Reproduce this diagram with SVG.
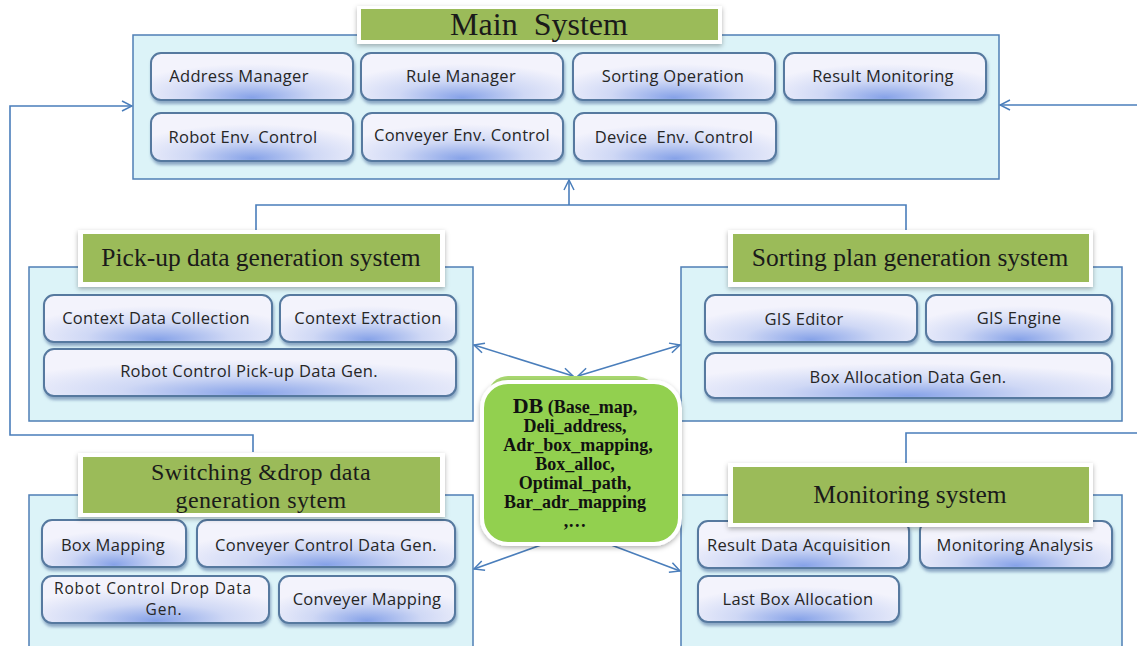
<svg xmlns="http://www.w3.org/2000/svg" width="1137" height="646" viewBox="0 0 1137 646">
<defs>
<radialGradient id="ig" cx="50%" cy="85%" r="62%" fx="50%" fy="95%">
<stop offset="0" stop-color="#86a2e8"/>
<stop offset="0.5" stop-color="#cfd8f5"/>
<stop offset="1" stop-color="#f3f3fc"/>
</radialGradient>
<filter id="sh" x="-10%" y="-20%" width="120%" height="150%">
<feDropShadow dx="1" dy="3" stdDeviation="1.5" flood-color="#4a6a9a" flood-opacity="0.55"/>
</filter>
<filter id="tsh" x="-10%" y="-20%" width="120%" height="150%">
<feDropShadow dx="0" dy="2" stdDeviation="2.5" flood-color="#000" flood-opacity="0.3"/>
</filter>
<marker id="ah" viewBox="0 0 12 12" refX="11" refY="6" markerWidth="12" markerHeight="12" markerUnits="userSpaceOnUse" orient="auto-start-reverse">
<path d="M1,1 L11,6 L1,11" fill="none" stroke="#4a7ebb" stroke-width="1.5"/>
</marker>
<style>
.panel{fill:#dcf3f8;stroke:#4f7fb5;stroke-width:1.5}
.item{fill:url(#ig);stroke:#56799f;stroke-width:2;filter:url(#sh)}
.tw{fill:#fff;filter:url(#tsh)}
.tg{fill:#9bbb59}
.tt{font-family:"Liberation Serif","Times New Roman",serif;font-size:25.5px;fill:#1a1a1a;text-anchor:middle}
.it{font-family:"Open Sans","Noto Sans",sans-serif;font-size:16.5px;letter-spacing:0.3px;fill:#262626;text-anchor:middle}
.db{font-family:"Liberation Serif","Times New Roman",serif;font-weight:bold;font-size:18px;fill:#111;text-anchor:middle}
.cn{fill:none;stroke:#4a7ebb;stroke-width:1.6}
</style>
</defs>
<rect width="1137" height="646" fill="#fff"/>

<g id="connectors">
<polyline class="cn" points="253,452 253,435 10,435 10,106 132,106" marker-end="url(#ah)"/>
<line class="cn" x1="1137" y1="105" x2="1000" y2="105" marker-end="url(#ah)"/>
<polyline class="cn" points="256,230 256,205 906,205 906,230"/>
<line class="cn" x1="569" y1="205" x2="569" y2="180" marker-end="url(#ah)"/>
<polyline class="cn" points="906,463 906,433 1137,433"/>
<line class="cn" x1="474" y1="345" x2="573" y2="376" marker-start="url(#ah)" marker-end="url(#ah)"/>
<line class="cn" x1="578" y1="376" x2="680" y2="345" marker-start="url(#ah)" marker-end="url(#ah)"/>
<line class="cn" x1="555" y1="540" x2="474" y2="569" marker-end="url(#ah)"/>
<line class="cn" x1="598" y1="540" x2="680" y2="571" marker-end="url(#ah)"/>
</g>

<g id="main-system">
<rect class="panel" x="133" y="35" width="866" height="144"/>
<rect class="item" x="151" y="53" width="202" height="47" rx="10"/>
<text class="it" x="239" y="82">Address Manager</text>
<rect class="item" x="361" y="53" width="202" height="47" rx="10"/>
<text class="it" x="461" y="82">Rule Manager</text>
<rect class="item" x="573" y="53" width="202" height="47" rx="10"/>
<text class="it" x="673" y="82">Sorting Operation</text>
<rect class="item" x="784" y="53" width="202" height="47" rx="10"/>
<text class="it" x="883" y="82">Result Monitoring</text>
<rect class="item" x="151" y="113" width="202" height="48" rx="10"/>
<text class="it" x="243" y="143">Robot Env. Control</text>
<rect class="item" x="362" y="113" width="201" height="48" rx="10"/>
<text class="it" x="462" y="141">Conveyer Env. Control</text>
<rect class="item" x="574" y="113" width="202" height="48" rx="10"/>
<text class="it" x="674" y="143" xml:space="preserve">Device  Env. Control</text>
<rect class="tw" x="357" y="6" width="365" height="38"/>
<rect class="tg" x="361" y="9" width="357" height="31"/>
<text class="tt" x="539" y="35" style="font-size:32px" xml:space="preserve">Main  System</text>
</g>

<g id="pickup-system">
<rect class="panel" x="29" y="267" width="444" height="154"/>
<rect class="item" x="44" y="295" width="228" height="47" rx="10"/>
<text class="it" x="156" y="324">Context Data Collection</text>
<rect class="item" x="280" y="295" width="176" height="47" rx="10"/>
<text class="it" x="368" y="324">Context Extraction</text>
<rect class="item" x="44" y="349" width="412" height="47" rx="10"/>
<text class="it" x="249" y="377">Robot Control Pick-up Data Gen.</text>
<rect class="tw" x="78" y="230" width="367" height="57"/>
<rect class="tg" x="83" y="234" width="357" height="48"/>
<text class="tt" x="261" y="266">Pick-up data generation system</text>
</g>

<g id="sorting-system">
<rect class="panel" x="681" y="267" width="441" height="154"/>
<rect class="item" x="705" y="295" width="212" height="47" rx="10"/>
<text class="it" x="804" y="325">GIS Editor</text>
<rect class="item" x="926" y="295" width="186" height="47" rx="10"/>
<text class="it" x="1019" y="324">GIS Engine</text>
<rect class="item" x="705" y="353" width="407" height="45" rx="10"/>
<text class="it" x="908" y="383">Box Allocation Data Gen.</text>
<rect class="tw" x="728" y="230" width="365" height="57"/>
<rect class="tg" x="733" y="234" width="356" height="48"/>
<text class="tt" x="910" y="266">Sorting plan generation system</text>
</g>

<g id="switching-system">
<rect class="panel" x="29" y="495" width="444" height="160"/>
<rect class="item" x="42" y="520" width="144" height="47" rx="10"/>
<text class="it" x="113" y="551">Box Mapping</text>
<rect class="item" x="197" y="520" width="258" height="47" rx="10"/>
<text class="it" x="326" y="551">Conveyer Control Data Gen.</text>
<rect class="item" x="42" y="576" width="227" height="47" rx="10"/>
<text class="it" x="153" y="594" style="font-size:15.5px;letter-spacing:0.8px">Robot Control Drop Data</text>
<text class="it" x="164" y="615" style="font-size:15.5px;letter-spacing:0.8px">Gen.</text>
<rect class="item" x="279" y="576" width="176" height="47" rx="10"/>
<text class="it" x="367" y="605">Conveyer Mapping</text>
<rect class="tw" x="78" y="453" width="367" height="64"/>
<rect class="tg" x="83" y="457" width="357" height="56"/>
<text class="tt" x="261" y="480" style="font-size:24px;letter-spacing:0.4px">Switching &amp;drop data</text>
<text class="tt" x="261" y="508" style="font-size:24px;letter-spacing:0.4px">generation sytem</text>
</g>

<g id="monitoring-system">
<rect class="panel" x="681" y="495" width="441" height="160"/>
<rect class="item" x="698" y="521" width="211" height="47" rx="10"/>
<text class="it" x="799" y="551">Result Data Acquisition</text>
<rect class="item" x="920" y="521" width="192" height="47" rx="10"/>
<text class="it" x="1015" y="551">Monitoring Analysis</text>
<rect class="item" x="698" y="576" width="201" height="46" rx="10"/>
<text class="it" x="798" y="605">Last Box Allocation</text>
<rect class="tw" x="728" y="463" width="365" height="64"/>
<rect class="tg" x="733" y="467" width="356" height="56"/>
<text class="tt" x="910" y="503">Monitoring system</text>
</g>

<g id="db">
<rect x="488" y="376" width="168" height="40" rx="20" fill="#a8d870"/>
<rect x="482" y="382" width="198" height="162" rx="26" fill="#92d050" stroke="#fff" stroke-width="4" filter="url(#tsh)"/>
<text class="db" x="575" y="413"><tspan style="font-size:22px">DB</tspan> (Base_map,</text>
<text class="db" x="575" y="432">Deli_address,</text>
<text class="db" x="578" y="451">Adr_box_mapping,</text>
<text class="db" x="575" y="470">Box_alloc,</text>
<text class="db" x="575" y="489">Optimal_path,</text>
<text class="db" x="575" y="508">Bar_adr_mapping</text>
<text class="db" x="575" y="527">,…</text>
</g>
</svg>
